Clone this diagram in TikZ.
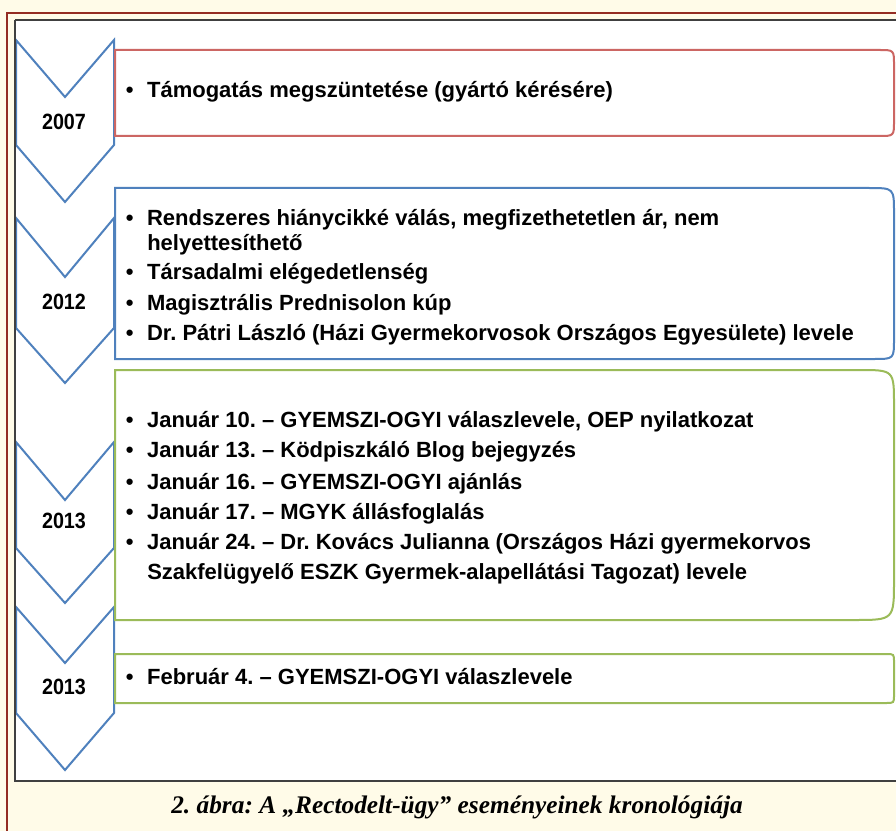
\documentclass[tikz,border=0pt]{standalone}
\usepackage{fontspec}
\setmainfont{Liberation Sans}
\newfontfamily\capfont{Liberation Serif}
\frenchspacing
\newcommand{\yr}[1]{\scalebox{1}[1.12]{#1}}
\definecolor{cream}{HTML}{FFFBE8}
\definecolor{maroon}{HTML}{942C22}
\definecolor{chevblue}{HTML}{4F81BD}
\definecolor{boxred}{HTML}{CC6663}
\definecolor{boxgreen}{HTML}{9BBB59}
\tikzset{
  chevron/.style={draw=chevblue,line width=1.5pt,fill=white,line join=miter},
  evbox/.style={line width=1.5pt,fill=white},
  year/.style={inner sep=0pt,font=\fontsize{14.8}{18}\selectfont\bfseries},
  item/.style={anchor=base west,inner sep=0pt,font=\fontsize{16.5}{20}\selectfont\bfseries},
}
\begin{document}
\begin{tikzpicture}[x=0.75pt,y=-0.75pt]
\useasboundingbox (0,0) rectangle (896,831);
\fill[cream] (0,0) rectangle (896,831);
\fill[white] (15,20) rectangle (896,781);
% chevrons of the years
\foreach \t/\n/\s/\p in {40/97/145/202,218/277/328/383,442/500/548/603,607/663/713/770}
	\draw[chevron] (16,\t) -- (65,\n) -- (114,\t) -- (114,\s) -- (65,\p) -- (16,\s) -- cycle;
\node[year] (y2007) at (64,122) {\yr{2007}};
\node[year] (y2012) at (64,302) {\yr{2012}};
\node[year] (y2013a) at (64,521) {\yr{2013}};
\node[year] (y2013b) at (64,687) {\yr{2013}};
% event boxes
\draw[evbox,draw=boxred] (115,136) -- (115,50) -- (879,50) .. controls (894,50) .. (894,65) -- (894,121) .. controls (894,136) .. (879,136) -- cycle;
\draw[evbox,draw=chevblue] (115,359) -- (115,188) -- (869,188) .. controls (894,188) .. (894,213) -- (894,339) .. controls (894,359) .. (874,359) -- cycle;
\draw[evbox,draw=boxgreen] (115,620) -- (115,370) -- (859,370) .. controls (894,370) .. (894,405) -- (894,580) .. controls (894,620) .. (854,620) -- cycle;
\draw[evbox,draw=boxgreen] (115,703) -- (115,654) -- (886,654) .. controls (894,654) .. (894,662) -- (894,695) .. controls (894,703) .. (886,703) -- cycle;
% items
\foreach \y/\txt [count=\i] in {
	97.5/{Támogatás megszüntetése (gyártó kérésére)},
	225.5/{Rendszeres hiánycikké válás, megfizethetetlen ár, nem},
	279.5/{Társadalmi elégedetlenség},
	310.5/{Magisztrális Prednisolon kúp},
	340.5/{Dr. Pátri László (Házi Gyermekorvosok Országos Egyesülete) levele},
	427.5/{Január 10. – GYEMSZI-OGYI válaszlevele, OEP nyilatkozat},
	457.5/{Január 13. – Ködpiszkáló Blog bejegyzés},
	489.5/{Január 16. – GYEMSZI-OGYI ajánlás},
	519.5/{Január 17. – MGYK állásfoglalás},
	549.5/{Január 24. – Dr. Kovács Julianna (Országos Házi gyermekorvos},
	684.5/{Február 4. – GYEMSZI-OGYI válaszlevele}}
	\node[item] (it\i) at (125.5,\y) {\makebox[16pt][l]{•}\txt};
\node[item] (cont1) at (147,250.5) {helyettesíthető};
\node[item] (cont2) at (147,579.5) {Szakfelügyelő ESZK Gyermek-alapellátási Tagozat) levele};
% frame
\draw[line width=1.2pt,black!75] (15,20) -- (896,20) (15,20) -- (15,781) -- (896,781);
\draw[line width=2pt,maroon] (7,831) -- (7,13) -- (896,13);
\node[inner sep=0pt,font=\capfont\fontsize{19}{22}\selectfont\bfseries\itshape] (caption) at (457,807) {2. ábra: A „Rectodelt-ügy” eseményeinek kronológiája};
\end{tikzpicture}
\end{document}
